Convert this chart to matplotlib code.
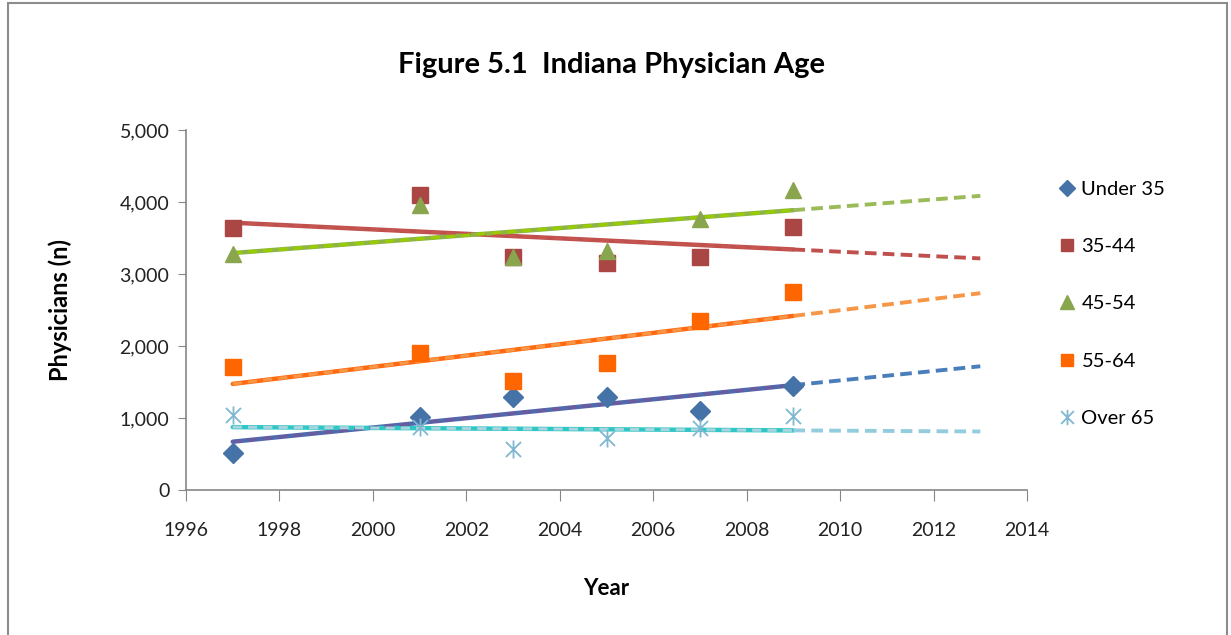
import matplotlib
matplotlib.use("Agg")
import matplotlib.pyplot as plt
from matplotlib.path import Path
from matplotlib.patches import Rectangle
import numpy as np

plt.rcParams['font.family'] = ['Lato', 'DejaVu Sans']

years = [1997, 2001, 2003, 2005, 2007, 2009]
labels = ['Under 35', '35-44', '45-54', '55-64', 'Over 65']
under35 = [510, 1015, 1290, 1290, 1095, 1445]
age35_44 = [3645, 4100, 3240, 3155, 3240, 3655]
age45_54 = [3280, 3960, 3235, 3320, 3765, 4170]
age55_64 = [1710, 1905, 1515, 1765, 2345, 2750]
over65 = [1040, 875, 570, 720, 860, 1025]
series = [under35, age35_44, age45_54, age55_64, over65]
forecast_end = 2013

# asterisk marker like excel's
star = Path([(-1, -1), (1, 1), (-1, 1), (1, -1), (0, -1.2), (0, 1.2)],
            [Path.MOVETO, Path.LINETO, Path.MOVETO, Path.LINETO, Path.MOVETO, Path.LINETO])

markers = ['D', 's', '^', 's', star]
msizes = [10, 11, 12, 11, 13]
mcolors = ['#4572A7', '#AA4643', '#89A54E', '#FF6600', '#7FB8D0']
solid_cols = ['#4F6AAE', '#C0504D', '#8DB446', '#FF6A10', '#2FC6C6']
dash_cols = ['#4A7EBB', '#C0504D', '#9BBB59', '#F79646', '#93CDDD']
overlay_cols = ['#6B5B9E', '#C65550', '#99CC00', '#F79646', '#A8D4DE']

fig = plt.figure(figsize=(12.31, 6.35), dpi=100)
ax = fig.add_axes([0.1511, 0.2283, 0.6832, 0.567])

for i, vals in enumerate(series):
    x = np.array(years)
    y = np.array(vals)
    k, b = np.polyfit(x, y, 1)
    xs = np.array([x[0], x[-1]])
    xf = np.array([x[-1], forecast_end])
    ax.plot(xs, k * xs + b, color=solid_cols[i], lw=3.2, solid_capstyle='round', zorder=2)
    ax.plot(xs, k * xs + b, color=overlay_cols[i], lw=2.2, ls=(0, (3, 2)), zorder=2.5)
    ax.plot(xf, k * xf + b, color=dash_cols[i], lw=2.8, ls=(0, (3, 1.6)), zorder=2)
    if markers[i] is star:
        ax.plot(x, y, ls='none', marker=star, ms=msizes[i], mec=mcolors[i], mfc='none',
                mew=1.3, label=labels[i], zorder=3)
    else:
        ax.plot(x, y, ls='none', marker=markers[i], ms=msizes[i], color=mcolors[i],
                mec=mcolors[i], label=labels[i], zorder=3)

ax.set_xlim(1996, 2014)
ax.set_ylim(0, 5000)
ax.set_xticks(range(1996, 2015, 2))
ax.set_yticks(range(0, 5001, 1000))
ax.set_yticklabels(['0', '1,000', '2,000', '3,000', '4,000', '5,000'])
ax.spines['top'].set_visible(False)
ax.spines['right'].set_visible(False)
for s in ['left', 'bottom']:
    ax.spines[s].set_color('#868686')
    ax.spines[s].set_linewidth(1.2)
ax.tick_params(axis='y', direction='out', length=6, color='#868686', labelsize=14,
               labelcolor='#222222', pad=6)
ax.tick_params(axis='x', direction='out', length=8, color='#868686', labelsize=14,
               labelcolor='#222222', pad=15)

ax.set_xlabel('Year', fontsize=16, fontweight='bold', labelpad=28)
ax.set_ylabel('Physicians (n)', fontsize=17, fontweight='bold', labelpad=34)
fig.text(0.497, 0.897, 'Figure 5.1  Indiana Physician Age', ha='center', va='center',
         fontsize=21, fontweight='bold')

leg = ax.legend(loc='upper left', bbox_to_anchor=(1.012, 0.91), frameon=False,
                fontsize=14.5, labelspacing=2.0, handletextpad=0.1, handlelength=1.2,
                markerscale=0.85)

fig.patches.append(Rectangle((0.0065, -0.01), 0.99, 1.006, transform=fig.transFigure,
                             fill=False, edgecolor='#8C8C8C', lw=1.5))

fig.savefig('out.png', dpi=100)
